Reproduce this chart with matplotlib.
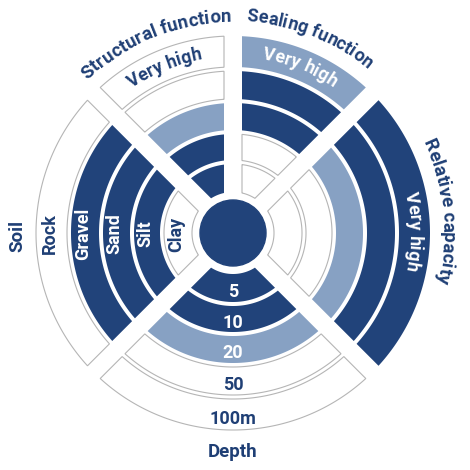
import matplotlib
matplotlib.use("Agg")
import matplotlib.pyplot as plt
import numpy as np
from matplotlib import ft2font, font_manager
from matplotlib.font_manager import FontProperties
from matplotlib.patches import Polygon, Circle

DARK = "#21437a"
LIGHT = "#87a1c3"
LINE = "#b5b5b5"
NAVY = "#1f3f75"

# sectors (angles counterclockwise, degrees)
names = ["Structural function", "Sealing function", "Relative capacity", "Depth", "Soil"]
starts = [90, 45, -45, 225, 135]
ends = [135, 90, 45, 315, 225]

# ring shading, inner -> outer (2 = dark, 1 = light, 0 = empty)
structural = [2, 2, 1, 0, 0]
sealing = [0, 0, 2, 2, 1]
capacity = [0, 0, 1, 2, 2]
depth = [2, 2, 1, 0, 0]
soil = [0, 2, 2, 2, 0]

depth_labels = ["5", "10", "20", "50", "100m"]
soil_labels = ["Clay", "Silt", "Sand", "Gravel", "Rock"]
top_label = "Very high"

ring_in = [41, 73, 103, 134, 166]
ring_out = [69, 99, 130, 162, 197]
gap = 9
cx, cy = 233, 233

fig = plt.figure(figsize=(4.7, 4.7), dpi=100)
ax = fig.add_axes([0, 0, 1, 1])
ax.set_xlim(-cx, 470 - cx)
ax.set_ylim(-(470 - cy), cy)
ax.set_aspect("equal")
ax.axis("off")

fill = {0: "white", 1: LIGHT, 2: DARK}
FONT = "Roboto"


def segment(a0, a1, ri, ro):
    to0 = a0 + np.degrees(np.arcsin(gap / ro))
    to1 = a1 - np.degrees(np.arcsin(gap / ro))
    ti0 = a0 + np.degrees(np.arcsin(gap / ri))
    ti1 = a1 - np.degrees(np.arcsin(gap / ri))
    t_out = np.radians(np.linspace(to0, to1, 120))
    t_in = np.radians(np.linspace(ti1, ti0, 120))
    pts = np.concatenate([
        np.column_stack([ro * np.cos(t_out), ro * np.sin(t_out)]),
        np.column_stack([ri * np.cos(t_in), ri * np.sin(t_in)]),
    ])
    return pts


levels = [structural, sealing, capacity, depth, soil]
for a0, a1, lev in zip(starts, ends, levels):
    for k in range(5):
        pts = segment(a0, a1, ring_in[k], ring_out[k])
        if lev[k] == 0:
            ax.add_patch(Polygon(pts, closed=True, facecolor="white", edgecolor=LINE, lw=0.8))
        else:
            ax.add_patch(Polygon(pts, closed=True, facecolor=fill[lev[k]], edgecolor="none"))

ax.add_patch(Circle((0, 0), 33, color=DARK))


def arc_text(s, r, angle, color, size=13):
    prop = FontProperties(family=FONT, weight="bold", size=size)
    font = ft2font.FT2Font(font_manager.findfont(prop))
    font.set_size(size, 100)
    widths = [font.load_char(ord(ch)).linearHoriAdvance / 65536 for ch in s]
    total = sum(widths)
    theta = np.radians(angle) + total / (2 * r)
    pos = 0
    for ch, w in zip(s, widths):
        t = theta - (pos + w / 2) / r
        ax.text(r * np.cos(t), r * np.sin(t), ch, rotation=np.degrees(t) - 90,
                rotation_mode="anchor", ha="center", va="baseline",
                fontproperties=prop, color=color)
        pos += w


def tcolor(v):
    return "white" if v > 0 else NAVY


mids = [(a + b) / 2 for a, b in zip(ring_in, ring_out)]

for k in range(5):
    ax.text(0, -(mids[k] + 4), depth_labels[k], ha="center", va="center",
            family=FONT, weight="bold", fontsize=13, color=tcolor(depth[k]))
    ax.text(-(mids[k] + 2), -1, soil_labels[k], ha="center", va="center", rotation=90,
            family=FONT, weight="bold", fontsize=13, color=tcolor(soil[k]))

arc_text(top_label, mids[4] - 5, 112.5, tcolor(structural[4]))
arc_text(top_label, mids[4] - 5, 68, tcolor(sealing[4]))
arc_text(top_label, mids[4] - 5, 0.5, tcolor(capacity[4]))

arc_text(names[0], 211, 112, NAVY, 13.5)
arc_text(names[1], 212, 68.5, NAVY, 13)
arc_text(names[2], 210, 6, NAVY, 13.5)
ax.text(0, -219, names[3], ha="center", va="center", family=FONT, weight="bold",
        fontsize=13.5, color=NAVY)
ax.text(-216, -3, names[4], ha="center", va="center", rotation=90, family=FONT,
        weight="bold", fontsize=13.5, color=NAVY)

fig.savefig("out.png", dpi=100)
